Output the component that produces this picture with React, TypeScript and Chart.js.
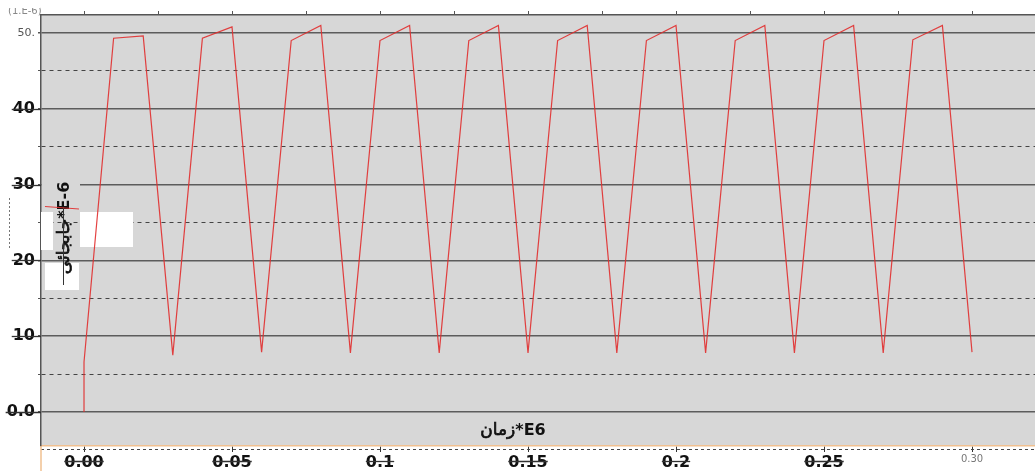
import React, { useEffect, useRef } from 'react';
import { Chart, registerables } from 'chart.js';

Chart.register(...registerables);

// ---- data ----
const timeValues = [
  0, 0, 0.01, 0.02, 0.03, 0.04, 0.05, 0.06, 0.07, 0.08, 0.09, 0.1, 0.11, 0.12, 0.13, 0.14,
  0.15, 0.16, 0.17, 0.18, 0.19, 0.2, 0.21, 0.22, 0.23, 0.24, 0.25, 0.26, 0.27, 0.28, 0.29, 0.3,
];
const displacementValues = [
  0, 6.6, 49.3, 49.6, 7.5, 49.3, 50.8, 7.9, 49.0, 51.0, 7.8, 49.0, 51.0, 7.8, 49.0, 51.0,
  7.8, 49.0, 51.0, 7.8, 49.0, 51.0, 7.8, 49.0, 51.0, 7.8, 49.0, 51.0, 7.8, 49.1, 51.0, 7.9,
];

const xTickValues = [0, 0.05, 0.1, 0.15, 0.2, 0.25, 0.3];
const xTickLabels = ['0.00', '0.05', '0.1', '0.15', '0.2', '0.25', '0.30'];
const topTickValues = [0, 0.025, 0.05, 0.075, 0.1, 0.125, 0.15, 0.175, 0.2, 0.225, 0.25, 0.275, 0.3];
const yTickValues = [0, 5, 10, 15, 20, 25, 30, 35, 40, 45, 50];
const yTickLabels = ['0.0', '', '10', '', '20', '', '30', '', '40', '', '50.'];

const xTitleArabic = 'زمان';
const xTitleLatin = '*E6';
const yTitleArabic = 'جابجائی';
const yTitleLatin = '*E-6';
const unitNote = '(1.E-6)';

const X_MIN = -0.01453;
const X_MAX = 0.32128;
const Y_MIN = -4.49;
const Y_MAX = 52.37;

const FAMILY = "'DejaVu Sans', 'Liberation Sans', sans-serif";

// draws "arabic + latin" as one visual line, arabic on the left, centred at (cx, cy)
function drawMixedTitle(ctx: CanvasRenderingContext2D, arabic: string, latin: string, cx: number, cy: number) {
  ctx.font = `17px 'DejaVu Sans'`;
  const wa = ctx.measureText(arabic).width;
  ctx.font = `bold 16px ${FAMILY}`;
  const wl = ctx.measureText(latin).width;
  const total = wa + wl;
  const left = cx - total / 2;
  ctx.textAlign = 'left';
  ctx.textBaseline = 'middle';
  ctx.fillStyle = '#111';
  ctx.strokeStyle = '#111';
  ctx.lineWidth = 0.7;
  ctx.font = `17px 'DejaVu Sans'`;
  ctx.fillText(arabic, left, cy);
  ctx.strokeText(arabic, left, cy);
  ctx.font = `bold 16px ${FAMILY}`;
  ctx.fillText(latin, left + wa, cy);
}

const decorPlugin = {
  id: 'decor',
  beforeDraw(chart: any) {
    const { ctx, chartArea } = chart;
    ctx.save();
    ctx.fillStyle = '#ffffff';
    ctx.fillRect(0, 0, chart.width, chart.height);
    ctx.fillStyle = '#d7d7d7';
    ctx.fillRect(chartArea.left, chartArea.top, chartArea.right - chartArea.left, chartArea.bottom - chartArea.top);
    ctx.restore();
  },
  beforeDatasetsDraw(chart: any) {
    const { ctx } = chart;
    ctx.save();
    ctx.fillStyle = '#d7d7d7';
    ctx.fillRect(42, 183, 38, 4);
    ctx.fillStyle = '#ffffff';
    ctx.fillRect(80, 212, 53, 35);
    ctx.fillRect(41, 212, 12, 38);
    ctx.fillRect(45, 263, 34, 27);
    ctx.restore();
  },
  afterDraw(chart: any) {
    const { ctx, chartArea } = chart;
    const xs = chart.scales.x;
    const ys = chart.scales.y;
    ctx.save();
    ctx.strokeStyle = '#444';
    ctx.lineWidth = 1;
    ctx.setLineDash([3, 3]);
    ctx.beginPath();
    ctx.moveTo(chartArea.left, 449.5);
    ctx.lineTo(chartArea.right, 449.5);
    ctx.stroke();
    ctx.strokeStyle = '#777';
    ctx.setLineDash([2, 2]);
    ctx.beginPath();
    ctx.moveTo(9.5, 198);
    ctx.lineTo(9.5, 250);
    ctx.stroke();
    ctx.setLineDash([]);
    ctx.strokeStyle = '#f0c090';
    ctx.lineWidth = 1.5;
    ctx.beginPath();
    ctx.moveTo(chartArea.left, chartArea.bottom);
    ctx.lineTo(chartArea.left, chart.height);
    ctx.stroke();

    ctx.strokeStyle = '#333';
    ctx.lineWidth = 1.3;
    ctx.font = `bold 16px ${FAMILY}`;
    yTickValues.forEach((v, i) => {
      const lab = yTickLabels[i];
      if (!lab || v === 50) return;
      const y = Math.round(ys.getPixelForValue(v)) + 0.5;
      const w = ctx.measureText(lab).width;
      ctx.beginPath();
      ctx.moveTo(35 - w - 1, y);
      ctx.lineTo(chartArea.left, y);
      ctx.stroke();
    });
    xTickValues.forEach((v, i) => {
      if (i === xTickValues.length - 1) return;
      const lab = xTickLabels[i];
      const x = xs.getPixelForValue(v);
      const w = ctx.measureText(lab).width;
      ctx.beginPath();
      ctx.moveTo(x - w / 2, 461.5);
      ctx.lineTo(x + w / 2, 461.5);
      ctx.stroke();
    });

    drawMixedTitle(ctx, xTitleArabic, xTitleLatin, 513, 431);

    ctx.save();
    ctx.translate(65, 228);
    ctx.rotate(-Math.PI / 2);
    drawMixedTitle(ctx, yTitleArabic, yTitleLatin, 0, 0);
    ctx.restore();

    ctx.strokeStyle = '#333';
    ctx.lineWidth = 1;
    ctx.beginPath();
    ctx.moveTo(63.5, 207);
    ctx.lineTo(63.5, 285);
    ctx.stroke();

    ctx.strokeStyle = 'rgba(225,45,45,0.9)';
    ctx.lineWidth = 1.2;
    ctx.beginPath();
    ctx.moveTo(45, 206.5);
    ctx.lineTo(79, 209);
    ctx.stroke();

    ctx.fillStyle = '#888';
    ctx.font = `10px ${FAMILY}`;
    ctx.textAlign = 'left';
    ctx.textBaseline = 'alphabetic';
    ctx.fillText(unitNote, 8, 14);
    ctx.fillStyle = '#ffffff';
    ctx.fillRect(0, 0, chartArea.left - 1, 8);
    ctx.restore();
  },
};

export default function App() {
  const canvasRef = useRef<HTMLCanvasElement | null>(null);

  useEffect(() => {
    if (!canvasRef.current) return;
    const points = timeValues.map((t, i) => ({ x: t, y: displacementValues[i] }));
    const chart = new Chart(canvasRef.current, {
      type: 'line',
      data: {
        datasets: [
          {
            data: points,
            borderColor: 'rgba(225,45,45,0.9)',
            borderWidth: 1.2,
            pointRadius: 0,
            tension: 0,
            fill: false,
          },
        ],
      },
      plugins: [decorPlugin],
      options: {
        responsive: false,
        animation: false,
        layout: { padding: 0 },
        plugins: { legend: { display: false }, tooltip: { enabled: false } },
        scales: {
          x: {
            type: 'linear',
            position: 'bottom',
            min: X_MIN,
            max: X_MAX,
            afterBuildTicks: (scale: any) => {
              scale.ticks = xTickValues.map((v) => ({ value: v }));
            },
            afterFit: (scale: any) => {
              scale.height = 25;
            },
            ticks: {
              autoSkip: false,
              maxRotation: 0,
              padding: 1,
              callback: (_v: any, i: number) => xTickLabels[i],
              font: (ctx: any) =>
                ctx.index === xTickValues.length - 1
                  ? { family: FAMILY, size: 10, weight: 'normal' }
                  : { family: FAMILY, size: 16, weight: 'bold' },
              color: (ctx: any) => (ctx.index === xTickValues.length - 1 ? '#777' : '#111'),
            },
            grid: {
              drawOnChartArea: false,
              drawTicks: true,
              tickLength: 6,
              tickColor: '#333',
              tickWidth: 1,
            },
            border: { color: '#f0c090', width: 1.5 },
          },
          xTop: {
            type: 'linear',
            position: 'top',
            min: X_MIN,
            max: X_MAX,
            afterBuildTicks: (scale: any) => {
              scale.ticks = topTickValues.map((v) => ({ value: v }));
            },
            afterFit: (scale: any) => {
              scale.height = 15;
            },
            ticks: { display: false },
            grid: {
              drawOnChartArea: false,
              drawTicks: true,
              tickLength: 4,
              tickColor: '#555',
              tickWidth: 1,
            },
            border: { color: '#555', width: 1.5 },
          },
          y: {
            type: 'linear',
            position: 'left',
            min: Y_MIN,
            max: Y_MAX,
            afterBuildTicks: (scale: any) => {
              scale.ticks = yTickValues.map((v) => ({ value: v }));
            },
            afterFit: (scale: any) => {
              scale.width = 41;
            },
            ticks: {
              autoSkip: false,
              padding: 3,
              callback: (_v: any, i: number) => yTickLabels[i],
              font: (ctx: any) =>
                ctx.tick && ctx.tick.value === 50
                  ? { family: FAMILY, size: 11, weight: 'normal' }
                  : { family: FAMILY, size: 16, weight: 'bold' },
              color: (ctx: any) => (ctx.tick && ctx.tick.value === 50 ? '#555' : '#111'),
            },
            grid: {
              drawTicks: true,
              tickLength: 3,
              color: (ctx: any) => (ctx.tick && ctx.tick.value % 10 !== 0 ? '#444' : '#5c5c5c'),
              lineWidth: (ctx: any) => (ctx.tick && ctx.tick.value % 10 !== 0 ? 1 : 1.6),
              tickColor: '#555',
            },
            border: {
              color: '#555',
              width: 1.5,
              dash: (ctx: any) => (ctx.tick && ctx.tick.value % 10 !== 0 ? [4, 4] : []),
            },
          },
        },
      } as any,
    });
    return () => chart.destroy();
  }, []);

  return (
    <div style={{ position: 'fixed', left: 0, top: 0, width: 1035, height: 471, background: '#fff' }}>
      <canvas ref={canvasRef} width={1035} height={471} style={{ display: 'block' }} />
    </div>
  );
}
